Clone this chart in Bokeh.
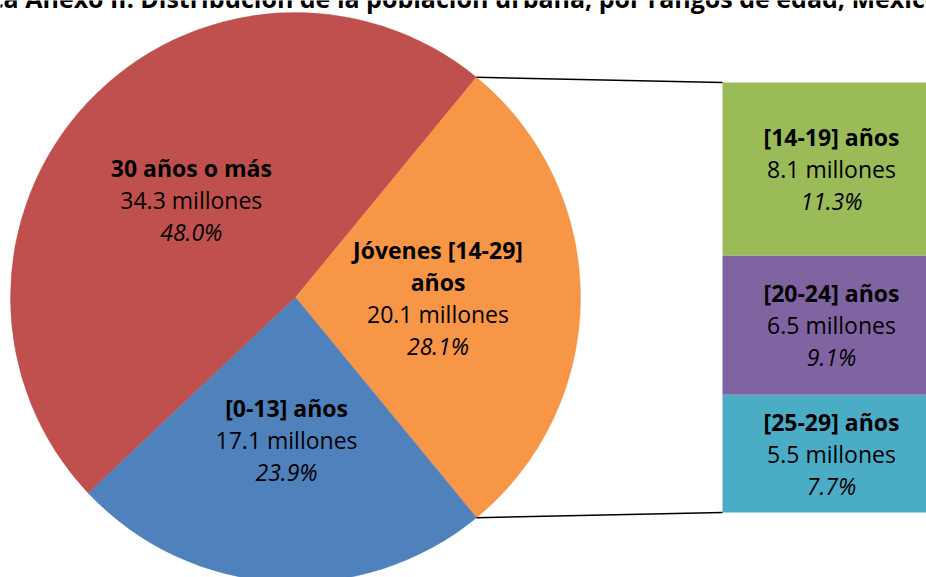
import math
from bokeh.plotting import figure
from bokeh.models import Range1d
from bokeh.core.properties import value
from bokeh.embed import file_html
from bokeh.resources import INLINE

# ---- data ----
title_text = "ca Anexo II. Distribución de la población urbana, por rangos de edad, México"
pie_names = ["30 años o más", "Jóvenes [14-29]\naños", "[0-13] años"]
pie_millions = [34.3, 20.1, 17.1]
pie_percents = [48.0, 28.1, 23.9]
pie_colors = ["#C0504D", "#F79646", "#4F81BD"]

sub_names = ["[14-19] años", "[20-24] años", "[25-29] años"]
sub_millions = [8.1, 6.5, 5.5]
sub_percents = [11.3, 9.1, 7.7]
sub_colors = ["#9BBB59", "#8064A2", "#4BACC6"]

FONT = "Open Sans"
FS = "23px"
LINE = 32

W, H = 926, 577
p = figure(width=W, height=H, x_range=Range1d(0, W), y_range=Range1d(0, H),
           output_backend="svg", toolbar_location=None, min_border=0)
p.axis.visible = False
p.grid.visible = False
p.outline_line_color = None
p.background_fill_color = "white"
p.border_fill_color = "white"

# ---- pie ----
cx, cy, R = 295, 280, 285
young_idx = 1
half = pie_percents[young_idx] / 100 * 360 / 2
o_start, o_end = -half, half
r_start = o_end
r_end = r_start + pie_percents[0] / 100 * 360
b_start = r_end
b_end = b_start + pie_percents[2] / 100 * 360
angles = [(r_start, r_end), (o_start, o_end), (b_start, b_end)]
for (a0, a1), col in zip(angles, pie_colors):
    p.wedge(x=cx, y=cy, radius=R, start_angle=math.radians(a0), end_angle=math.radians(a1),
            fill_color=col, line_color=col, line_width=0.5)

def draw_lines(x, ymid, lines):
    n = len(lines)
    for i, (txt, style) in enumerate(lines):
        y = ymid - (i - (n - 1) / 2) * LINE
        p.text(x=[x], y=[y], text=[txt], text_font=value(FONT), text_font_size=FS,
               text_font_style=style, text_align="center", text_baseline="middle",
               text_color="#000000")

for (a0, a1), name, mil, pct in zip(angles, pie_names, pie_millions, pie_percents):
    mid = math.radians((a0 + a1) / 2)
    lx = cx + 0.5 * R * math.cos(mid)
    ly = cy + 0.5 * R * math.sin(mid)
    lines = [(t, "bold") for t in name.split("\n")]
    lines += [(f"{mil:.1f} millones", "normal"), (f"{pct:.1f}%", "italic")]
    draw_lines(lx, ly, lines)

# ---- stacked bar of the young group ----
bx0, bx1 = 722, 940
by0, by1 = 65, 495
k = (by1 - by0) / sum(sub_percents)
bottom = by0
segs = []
for name, mil, pct, col in reversed(list(zip(sub_names, sub_millions, sub_percents, sub_colors))):
    top = bottom + pct * k
    p.quad(left=bx0, right=bx1, bottom=bottom, top=top, fill_color=col, line_color=None)
    segs.append((name, mil, pct, (bottom + top) / 2))
    bottom = top
for name, mil, pct, ym in segs:
    draw_lines((bx0 + bx1) / 2, ym, [(name, "bold"), (f"{mil:.1f} millones", "normal"),
                                      (f"{pct:.1f}%", "italic")])

# ---- connector lines ----
for a in (o_end, o_start):
    px = cx + R * math.cos(math.radians(a))
    py = cy + R * math.sin(math.radians(a))
    ty = by1 if a > 0 else by0
    p.line(x=[px, bx0], y=[py, ty], line_color="black", line_width=1.5)

# ---- title (cut off at top as in reference) ----
p.text(x=[465], y=[H + 3], text=[title_text], text_font=value(FONT), text_font_size="25px",
       text_font_style="bold", text_align="center", text_baseline="alphabetic",
       text_color="black")

open("out.html", "w").write(file_html(p, INLINE))
